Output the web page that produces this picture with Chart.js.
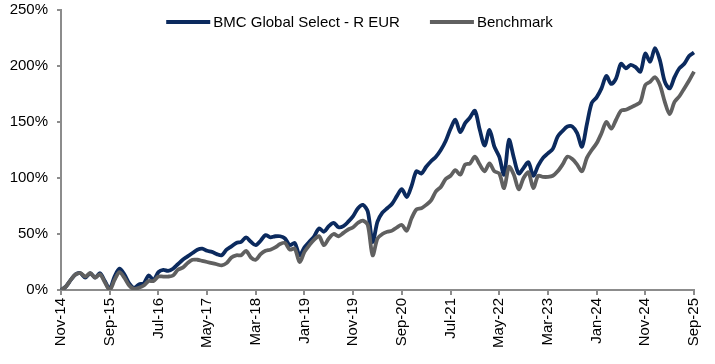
<!DOCTYPE html>
<html>
<head>
<meta charset="utf-8">
<script src="https://cdn.jsdelivr.net/npm/chart.js@4.4.1/dist/chart.umd.min.js"></script>
<style>
  html, body { margin: 0; padding: 0; background: #fff; }
</style>
</head>
<body>
<canvas id="perfChart" width="715" height="364"></canvas>
<script>
// monthly cumulative performance, Nov-14 .. Sep-25 (%)
const monthNames = ['Jan', 'Feb', 'Mar', 'Apr', 'May', 'Jun', 'Jul', 'Aug', 'Sep', 'Oct', 'Nov', 'Dec'];
const fundLabel = 'BMC Global Select - R EUR';
const benchLabel = 'Benchmark';

const fundValues = [
    0, 3, 9, 14, 15, 11, 15, 11, 15, 8,
    1, 12, 19, 14, 6, 2, 5, 6, 13, 9,
    16, 18, 17, 19, 23, 27, 30, 33, 36, 37,
    35, 34, 32, 31, 36, 39, 42, 43, 47, 43,
    40, 44, 49, 47, 48, 48, 46, 40, 42, 31,
    38, 43, 48, 55, 52, 57, 60, 56, 57, 61,
    66, 73, 76, 70, 43, 61, 69, 73, 77, 84,
    90, 83, 93, 106, 104, 110, 115, 119, 125, 133,
    144, 152, 141, 149, 154, 160, 143, 129, 143, 128,
    119, 103, 134, 118, 104, 109, 114, 102, 111, 118,
    122, 126, 137, 142, 146, 146, 140, 128, 148, 167,
    172, 180, 191, 184, 189, 202, 198, 201, 199, 195,
    211, 204, 216, 205, 186, 180, 190, 198, 202, 209, 212
];

const benchValues = [
    0, 3, 9, 14, 15, 12, 15, 11, 14, 7,
    0, 9, 16, 11, 4, 1, 2, 4, 8, 8,
    12, 12, 12, 13, 18, 20, 24, 27, 27, 26,
    25, 24, 23, 22, 24, 29, 31, 31, 35, 29,
    27, 32, 35, 36, 38, 41, 42, 36, 37, 25,
    34, 40, 45, 48, 40, 46, 50, 48, 51, 54,
    56, 60, 62, 58, 31, 46, 50, 52, 53, 56,
    58, 53, 64, 72, 73, 76, 80, 88, 92, 99,
    102, 107, 103, 112, 113, 119, 112, 106, 113, 106,
    104, 91, 110, 103, 90, 100, 105, 91, 102, 101,
    101, 102, 106, 112, 119, 117, 112, 106, 118, 125,
    131, 140, 150, 144, 152, 160, 161, 163, 165, 168,
    183, 186, 190, 183, 168, 157, 168, 173, 180, 187, 195
];

const yMin = 0, yMax = 250, yStep = 50;
const labelEvery = 10; // Nov-14, Sep-15, Jul-16 ...

// month labels like "Nov-14"
const categories = [];
for (let i = 0; i < fundValues.length; i++) {
    const m = (10 + i) % 12;
    const y = 2014 + Math.floor((10 + i) / 12);
    categories.push(monthNames[m] + '-' + String(y).slice(2));
}

const FONT = '"Liberation Sans", Arial, sans-serif';
const axisGray = '#8c8c8c';

const overlayLegend = {
    id: 'overlayLegend',
    afterDraw(chart) {
        const ctx = chart.ctx;
        ctx.save();
        ctx.font = '15px ' + FONT;
        const sample = 44, gap = 3, between = 30;
        const items = chart.data.datasets.map(ds => ({
            text: ds.label,
            color: ds.borderColor,
            w: ctx.measureText(ds.label).width
        }));
        const total = items.reduce((s, it) => s + sample + gap + it.w, 0) + between * (items.length - 1);
        let x = chart.width / 2 + 2 - total / 2;
        const y = 22;
        items.forEach(it => {
            ctx.strokeStyle = it.color;
            ctx.lineWidth = 4;
            ctx.beginPath();
            ctx.moveTo(x, y);
            ctx.lineTo(x + sample, y);
            ctx.stroke();
            ctx.fillStyle = '#000';
            ctx.textBaseline = 'middle';
            ctx.textAlign = 'left';
            ctx.fillText(it.text, x + sample + gap, y + 1);
            x += sample + gap + it.w + between;
        });
        ctx.restore();
    }
};

const ctx = document.getElementById('perfChart').getContext('2d');
const perfChart = new Chart(ctx, {
    type: 'line',
    data: {
        labels: categories,
        datasets: [{
            label: fundLabel,
            data: fundValues,
            borderColor: '#0b2a5e',
            borderWidth: 3.8,
            pointRadius: 0,
            tension: 0.3,
            order: 1
        }, {
            label: benchLabel,
            data: benchValues,
            borderColor: '#606060',
            borderWidth: 3.8,
            pointRadius: 0,
            tension: 0.3,
            order: 0
        }]
    },
    options: {
        responsive: false,
        animation: false,
        layout: { padding: { top: 10, right: 20, left: 0, bottom: 0 } },
        plugins: {
            legend: { display: false },
            tooltip: { enabled: false }
        },
        scales: {
            x: {
                grid: { display: true, drawOnChartArea: false, color: axisGray, lineWidth: 2, tickLength: 5 },
                border: { display: true, color: axisGray, width: 2 },
                ticks: {
                    autoSkip: false,
                    minRotation: 90,
                    maxRotation: 90,
                    padding: 3,
                    color: '#000',
                    font: { family: FONT, size: 15 },
                    callback: (v, idx) => idx % labelEvery === 0 ? categories[idx] : null
                },
                afterFit: scale => { scale.height = 74; }
            },
            y: {
                min: yMin,
                max: yMax,
                grid: { display: true, drawOnChartArea: false, color: axisGray, lineWidth: 2, tickLength: 4 },
                border: { display: true, color: axisGray, width: 2 },
                ticks: {
                    stepSize: yStep,
                    padding: 9,
                    color: '#000',
                    font: { family: FONT, size: 15 },
                    callback: v => v + '%'
                },
                afterFit: scale => {
                    scale.width = 61;
                    scale.paddingTop = 0;
                }
            }
        }
    },
    plugins: [overlayLegend]
});
</script>
</body>
</html>
